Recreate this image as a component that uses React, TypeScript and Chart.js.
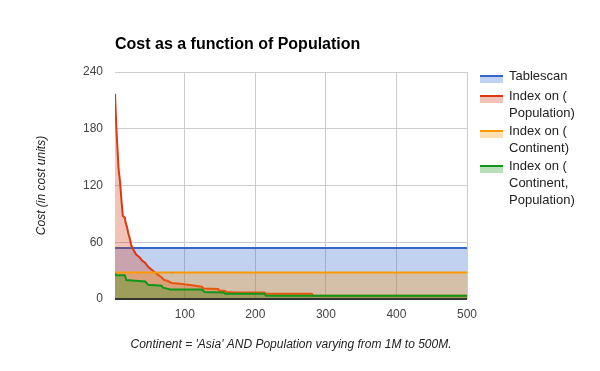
import React, { useEffect, useRef } from 'react';
import { Chart, registerables } from 'chart.js';
Chart.register(...registerables);

const TITLE = 'Cost as a function of Population';
const Y_TITLE = 'Cost (in cost units)';
const X_TITLE = "Continent = 'Asia' AND Population varying from 1M to 500M.";

const X_TICKS = [100, 200, 300, 400, 500];
const Y_TICKS = [0, 60, 120, 180, 240];

const tablescanX = [1, 500];
const tablescanY = [54, 54];

const popIdxX = [1, 3, 5, 6, 8, 10, 12, 15, 16, 18, 20, 22, 24, 27, 31, 36, 39, 44, 48, 53, 58, 63, 67, 71, 76, 81, 93, 110, 124, 127, 147, 149, 157, 159, 171, 213, 215, 280, 282, 500];
const popIdxY = [217, 180, 152, 138, 125, 106, 88, 86, 81, 76, 69, 64, 57, 52, 47, 44, 41, 38, 34, 31, 28, 25, 23, 20, 19, 17, 16, 14.5, 13, 11, 10.5, 9, 8.5, 7.5, 7, 7, 5.5, 5.5, 3.5, 3.5];

const contIdxX = [1, 500];
const contIdxY = [28, 28];

const bothIdxX = [1, 3, 15, 17, 25, 44, 48, 67, 69, 72, 79, 124, 128, 155, 157, 213, 215, 500];
const bothIdxY = [27, 25, 25, 20, 19.5, 18.5, 15, 14, 12, 11.5, 10, 10, 7.5, 7, 5.5, 5.5, 3.5, 3.5];

const LEGEND_LINES = [
  ['Tablescan'],
  ['Index on (', 'Population)'],
  ['Index on (', 'Continent)'],
  ['Index on (', 'Continent,', 'Population)'],
];
const COLORS = ['#3366cc', '#dc3912', '#ff9900', '#109618'];
const FILLS = ['rgba(51,102,204,0.3)', 'rgba(220,57,18,0.3)', 'rgba(255,153,0,0.3)', 'rgba(16,150,24,0.3)'];

const pts = (xs: number[], ys: number[]) => xs.map((x, i) => ({ x, y: ys[i] }));

const FONT = "Arial, 'Liberation Sans', sans-serif";

export default function App() {
  const ref = useRef<HTMLCanvasElement | null>(null);
  useEffect(() => {
    if (!ref.current) return;
    const series = [
      pts(tablescanX, tablescanY),
      pts(popIdxX, popIdxY),
      pts(contIdxX, contIdxY),
      pts(bothIdxX, bothIdxY),
    ];
    const textPlugin = {
      id: 'texts',
      afterDatasetsDraw(chart: any) {
        const { ctx, chartArea, scales } = chart;
        const y0 = Math.round(scales.y.getPixelForValue(0));
        ctx.save();
        ctx.fillStyle = '#333';
        ctx.fillRect(chartArea.left, y0 - 1, chartArea.right - chartArea.left, 2);
        ctx.restore();
      },
      afterDraw(chart: any) {
        const { ctx, chartArea } = chart;
        ctx.save();
        ctx.fillStyle = '#000';
        ctx.font = `bold 16px ${FONT}`;
        ctx.textBaseline = 'middle';
        ctx.textAlign = 'left';
        ctx.fillText(TITLE, chartArea.left, 45);

        ctx.fillStyle = '#222';
        ctx.font = `italic 12px ${FONT}`;
        ctx.textAlign = 'center';
        ctx.fillText(X_TITLE, (chartArea.left + chartArea.right) / 2, 345);
        ctx.save();
        ctx.translate(42, (chartArea.top + chartArea.bottom) / 2);
        ctx.rotate(-Math.PI / 2);
        ctx.fillText(Y_TITLE, 0, 0);
        ctx.restore();

        const lineYs = [76, 96, 131, 166];
        ctx.font = `13px ${FONT}`;
        ctx.textAlign = 'left';
        LEGEND_LINES.forEach((lines, i) => {
          const ly = lineYs[i];
          ctx.fillStyle = FILLS[i];
          ctx.fillRect(480, ly + 1, 23, 6);
          ctx.fillStyle = COLORS[i];
          ctx.fillRect(480, ly - 1, 23, 2);
          ctx.fillStyle = '#222';
          lines.forEach((t, k) => ctx.fillText(t, 509, ly + k * 17));
        });
        ctx.restore();
      },
    };
    const chart = new Chart(ref.current, {
      type: 'line',
      data: {
        datasets: series.map((d, i) => ({
          label: LEGEND_LINES[i].join(' '),
          data: d,
          borderColor: COLORS[i],
          backgroundColor: FILLS[i],
          borderWidth: 2,
          pointRadius: 0,
          fill: 'origin',
          tension: 0,
          order: 3 - i,
        })),
      },
      options: {
        responsive: false,
        animation: false,
        devicePixelRatio: 1,
        layout: { padding: { left: 0, right: 133, top: 72, bottom: 42 } },
        plugins: { legend: { display: false }, tooltip: { enabled: false }, title: { display: false } },
        scales: {
          x: {
            type: 'linear',
            min: 1,
            max: 500,
            afterBuildTicks: (s: any) => { s.ticks = X_TICKS.map((v) => ({ value: v })); },
            afterFit: (s: any) => { s.height = 30; },
            grid: { color: '#cccccc', drawTicks: false },
            border: { display: false },
            ticks: { color: '#444', font: { family: FONT, size: 12 }, padding: 8, maxRotation: 0 },
          },
          y: {
            min: 0,
            max: 240,
            afterBuildTicks: (s: any) => { s.ticks = Y_TICKS.map((v) => ({ value: v })); },
            afterFit: (s: any) => { s.width = 115; },
            grid: { color: '#cccccc', drawTicks: false },
            border: { display: false },
            ticks: { color: '#444', font: { family: FONT, size: 12 }, padding: 12 },
          },
        },
      },
      plugins: [textPlugin],
    } as any);
    return () => chart.destroy();
  }, []);
  return (
    <div style={{ position: 'fixed', left: 0, top: 0, width: 600, height: 371, background: '#fff' }}>
      <canvas ref={ref} width={600} height={371} />
    </div>
  );
}
